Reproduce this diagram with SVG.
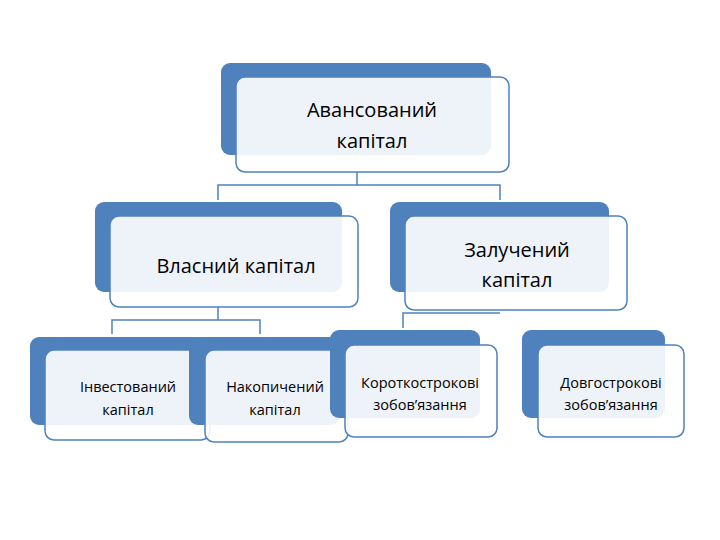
<svg xmlns="http://www.w3.org/2000/svg" width="720" height="540" viewBox="0 0 720 540">
<style>
.b{fill:#4F81BD}
.f{fill:#fff;fill-opacity:0.9;stroke:#4F81BD;stroke-width:1.5}
.c{fill:none;stroke:#4F81BD;stroke-width:1.5}
text{font-family:"Open Sans","Liberation Sans",sans-serif;fill:#000;text-anchor:middle}
.l{font-size:20px}
.s{font-size:14.5px}
</style>
<rect width="720" height="540" fill="#fff"/>
<g id="connectors">
<path class="c" d="M357 172V185M218 200V185H500V200"/>
<path class="c" d="M218 307V320M112 334V320H260V334"/>
<path class="c" d="M403 328V313H500"/>
</g>
<g id="n1"><rect class="b" x="221" y="63" width="270" height="92" rx="9"/><rect class="f" x="236" y="77" width="273" height="95" rx="9"/>
<text class="l" x="372" y="117">Авансований</text><text class="l" x="372" y="148">капітал</text></g>
<g id="n2"><rect class="b" x="95" y="202" width="247" height="90" rx="9"/><rect class="f" x="110" y="216" width="248" height="91" rx="9"/>
<text class="l" x="236" y="273">Власний капітал</text></g>
<g id="n3"><rect class="b" x="390" y="202" width="219" height="90" rx="9"/><rect class="f" x="405" y="216" width="222" height="94" rx="9"/>
<text class="l" x="517" y="257">Залучений</text><text class="l" x="517" y="287">капітал</text></g>
<g id="n4"><rect class="b" x="30" y="337" width="175" height="88" rx="9"/><rect class="f" x="45" y="350" width="165" height="90" rx="9"/>
<text class="s" x="128" y="392">Інвестований</text><text class="s" x="128" y="415">капітал</text></g>
<g id="n5"><rect class="b" x="189" y="337" width="151" height="88" rx="9"/><rect class="f" x="205" y="350" width="143" height="92" rx="9"/>
<text class="s" x="275" y="392">Накопичений</text><text class="s" x="275" y="415">капітал</text></g>
<g id="n6"><rect class="b" x="330" y="330" width="150" height="88" rx="9"/><rect class="f" x="345" y="345" width="152" height="92" rx="9"/>
<text class="s" x="420" y="388">Короткострокові</text><text class="s" x="420" y="410">зобов’язання</text></g>
<g id="n7"><rect class="b" x="522" y="330" width="143" height="88" rx="9"/><rect class="f" x="538" y="345" width="146" height="92" rx="9"/>
<text class="s" x="611" y="388">Довгострокові</text><text class="s" x="611" y="410">зобов’язання</text></g>
</svg>
